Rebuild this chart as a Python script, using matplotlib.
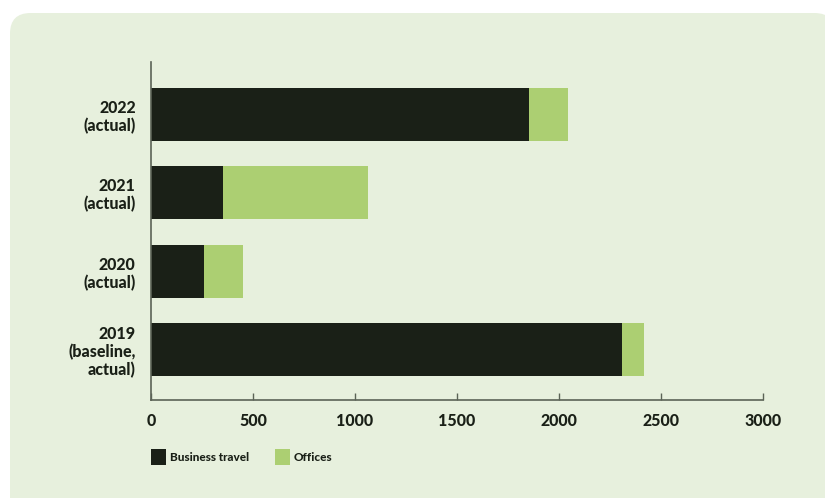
import matplotlib.pyplot as plt
from matplotlib.patches import FancyBboxPatch, Patch

# Données (tCO2e)
labels = ["2019\n(baseline,\nactual)", "2020\n(actual)", "2021\n(actual)", "2022\n(actual)"]
business_travel = [2307, 260, 353, 1851]
offices = [108, 192, 712, 191]

dark = "#1a2017"
green = "#accf72"
panel = "#e7f0dd"
axis_col = "#5b6356"

plt.rcParams['font.family'] = ['Lato', 'DejaVu Sans']

fig = plt.figure(figsize=(8.25, 4.98), dpi=100)
fig.patch.set_facecolor("white")

# fond vert arrondi
bg = FancyBboxPatch((10 / 825, -0.05), 1.0, (498 - 13) / 498 + 0.05,
                    boxstyle="round,pad=0,rounding_size=0.025",
                    transform=fig.transFigure, facecolor=panel, edgecolor="none",
                    mutation_aspect=825 / 498, zorder=-10)
fig.patches.append(bg)

ax = fig.add_axes([151 / 825, (498 - 400) / 498, (763 - 151) / 825, (400 - 62) / 498])
ax.set_facecolor("none")
ax.set_zorder(5)

y = range(len(labels))
ax.barh(y, business_travel, height=0.675, color=dark, label="Business travel")
ax.barh(y, offices, left=business_travel, height=0.675, color=green, label="Offices")

ax.set_xlim(0, 3000)
ax.set_ylim(-0.64, 3.67)
ax.set_xticks(range(0, 3001, 500))
ax.set_yticks(list(y))
ax.set_yticklabels(labels, fontsize=11.5, fontweight="black", color=dark, linespacing=1.15)
ax.tick_params(axis="y", length=0, pad=11)
ax.tick_params(axis="x", direction="in", length=5, color=axis_col, width=1,
               labelsize=11.5, labelcolor=dark, pad=9)
for t in ax.get_xticklabels():
    t.set_fontweight("black")

for s in ["top", "right"]:
    ax.spines[s].set_visible(False)
for s in ["left", "bottom"]:
    ax.spines[s].set_color(axis_col)
    ax.spines[s].set_linewidth(1.2)

handles = [Patch(facecolor=dark), Patch(facecolor=green)]
leg = fig.legend(handles, ["Business travel", "Offices"], loc="center left",
                 bbox_to_anchor=(151 / 825, 1 - 457 / 498), ncol=2, frameon=False,
                 borderpad=0, borderaxespad=0,
                 handlelength=1.25, handleheight=1.6, handletextpad=0.35,
                 columnspacing=2.2, prop={"size": 8.5, "weight": "black"})
for t in leg.get_texts():
    t.set_color(dark)

fig.savefig("out.png", dpi=100, facecolor="white")
